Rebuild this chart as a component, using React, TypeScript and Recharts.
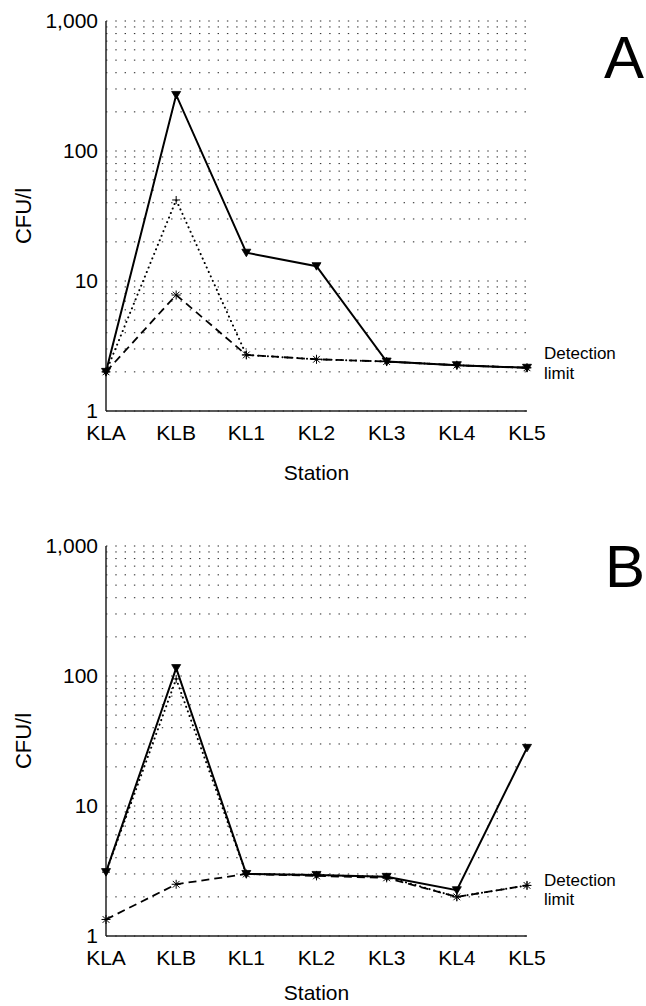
import React from 'react';
import { LineChart, Line, XAxis, YAxis, CartesianGrid, Label } from 'recharts';

const stations = ['KLA', 'KLB', 'KL1', 'KL2', 'KL3', 'KL4', 'KL5'];

// Panel A
const aSolid = [2.0, 270, 16.5, 13, 2.4, 2.25, 2.15];
const aDotted = [2.0, 42, 2.7, 2.5, 2.4, 2.25, 2.15];
const aDashed = [2.0, 7.8, 2.7, 2.5, 2.4, 2.25, 2.15];

// Panel B
const bSolid = [3.1, 115, 3.0, 2.95, 2.85, 2.25, 28];
const bDotted = [3.1, 95, 3.0, 2.95, 2.85, 2.0, 2.45];
const bDashed = [1.34, 2.5, 3.0, 2.9, 2.8, 2.0, 2.45];

const labeledTicks = [1, 10, 100, 1000];
const gridTicks = [
  1, 2, 3, 4, 5, 6, 7, 8, 9,
  10, 20, 30, 40, 50, 60, 70, 80, 90,
  100, 200, 300, 400, 500, 600, 700, 800, 900,
  1000,
];

const FONT = '"Liberation Sans", Arial, Helvetica, sans-serif';

const buildRows = (solid: number[], dotted: number[], dashed: number[]) =>
  stations.map((s, i) => ({ station: s, solid: solid[i], dotted: dotted[i], dashed: dashed[i] }));

const fmt = (v: number) => {
  if (!labeledTicks.includes(v)) return '';
  return v === 1000 ? '1,000' : String(v);
};

const TriangleDot = (props: any) => {
  const { cx, cy, index } = props;
  if (cx == null || cy == null) return <g key={`t-${index}`} />;
  const w = 4.5;
  return (
    <path
      key={`t-${index}`}
      d={`M${cx - w},${cy - 3.5} L${cx + w},${cy - 3.5} L${cx},${cy + 4} Z`}
      fill="#000"
      stroke="#000"
      strokeWidth={0.8}
    />
  );
};

const PlusDot = (props: any) => {
  const { cx, cy, index } = props;
  if (cx == null || cy == null) return <g key={`p-${index}`} />;
  const r = 4;
  return (
    <path
      key={`p-${index}`}
      d={`M${cx - r},${cy} L${cx + r},${cy} M${cx},${cy - r} L${cx},${cy + r}`}
      stroke="#000"
      strokeWidth={1}
      fill="none"
    />
  );
};

const StarDot = (props: any) => {
  const { cx, cy, index } = props;
  if (cx == null || cy == null) return <g key={`s-${index}`} />;
  const r = 4.5;
  const d = r * 0.75;
  return (
    <path
      key={`s-${index}`}
      d={`M${cx},${cy - r} L${cx},${cy + r} M${cx - d},${cy - d} L${cx + d},${cy + d} M${cx - d},${cy + d} L${cx + d},${cy - d} M${cx - r},${cy} L${cx + r},${cy}`}
      stroke="#000"
      strokeWidth={1}
      fill="none"
    />
  );
};

type PanelProps = {
  rows: any[];
  top: number;
  height: number;
  bottomMargin: number;
  axisHeight: number;
};

const Panel = ({ rows, top, height, bottomMargin, axisHeight }: PanelProps) => (
  <div style={{ position: 'absolute', left: 0, top, width: 646, height }}>
    <LineChart
      width={646}
      height={height}
      data={rows}
      margin={{ top: 21, right: 119, bottom: bottomMargin, left: 0 }}
    >
      <CartesianGrid
        vertical={false}
        stroke="#222"
        strokeWidth={1}
        strokeDasharray="1.4 7.9"
      />
      <XAxis
        dataKey="station"
        type="category"
        scale="point"
        padding={{ left: 0, right: 0 }}
        height={axisHeight}
        tickLine={false}
        tickMargin={8}
        axisLine={{ stroke: '#222', strokeWidth: 1.5 }}
        tick={{ fill: '#000', fontSize: 21, fontFamily: FONT }}
        interval={0}
      >
        <Label
          value="Station"
          position="insideBottom"
          offset={0}
          style={{ fill: '#000', fontSize: 21, fontFamily: FONT }}
        />
      </XAxis>
      <XAxis
        xAxisId="top"
        dataKey="station"
        orientation="top"
        height={0}
        tick={false}
        tickLine={false}
        axisLine={{ stroke: '#222', strokeWidth: 1.5 }}
      />
      <YAxis
        scale="log"
        type="number"
        domain={[1, 1000]}
        allowDataOverflow
        ticks={gridTicks}
        interval={0}
        tickFormatter={fmt}
        width={106}
        tickLine={false}
        tickSize={6}
        tickMargin={2}
        axisLine={{ stroke: '#222', strokeWidth: 1.5 }}
        tick={{ fill: '#000', fontSize: 21, fontFamily: FONT }}
      >
        <Label
          value="CFU/l"
          angle={-90}
          position="insideLeft"
          offset={23}
          style={{ fill: '#000', fontSize: 22, fontFamily: FONT, textAnchor: 'middle' }}
        />
      </YAxis>
      <YAxis
        yAxisId="right"
        orientation="right"
        scale="log"
        type="number"
        domain={[1, 1000]}
        allowDataOverflow
        width={0}
        tick={false}
        tickLine={false}
        axisLine={{ stroke: '#222', strokeWidth: 1.2 }}
      />
      <Line
        dataKey="dashed"
        type="linear"
        stroke="#000"
        strokeWidth={1.8}
        strokeDasharray="8 5"
        dot={StarDot}
        activeDot={false}
        isAnimationActive={false}
      />
      <Line
        dataKey="dotted"
        type="linear"
        stroke="#000"
        strokeWidth={2}
        strokeLinecap="round"
        strokeDasharray="0.1 4.8"
        dot={PlusDot}
        activeDot={false}
        isAnimationActive={false}
      />
      <Line
        dataKey="solid"
        type="linear"
        stroke="#000"
        strokeWidth={2}
        dot={TriangleDot}
        activeDot={false}
        isAnimationActive={false}
      />
    </LineChart>
  </div>
);

export default function App() {
  const rowsA = buildRows(aSolid, aDotted, aDashed);
  const rowsB = buildRows(bSolid, bDotted, bDashed);
  const textStyle = { fontFamily: FONT, fill: '#000' } as const;
  return (
    <div
      style={{
        position: 'absolute',
        left: 0,
        top: 0,
        width: 646,
        height: 1006,
        overflow: 'hidden',
        background: '#fff',
      }}
    >
      <Panel rows={rowsA} top={0} height={490} bottomMargin={10} axisHeight={69} />
      <Panel rows={rowsB} top={525} height={481} bottomMargin={6} axisHeight={64} />
      <svg
        width={646}
        height={1006}
        style={{ position: 'absolute', left: 0, top: 0, pointerEvents: 'none' }}
      >
        <text x={604} y={78} fontSize={60} {...textStyle}>A</text>
        <text x={605} y={587} fontSize={60} {...textStyle}>B</text>
        <text x={544} y={359} fontSize={17} {...textStyle}>Detection</text>
        <text x={544} y={379} fontSize={17} {...textStyle}>limit</text>
        <text x={544} y={886} fontSize={17} {...textStyle}>Detection</text>
        <text x={544} y={905} fontSize={17} {...textStyle}>limit</text>
      </svg>
    </div>
  );
}
